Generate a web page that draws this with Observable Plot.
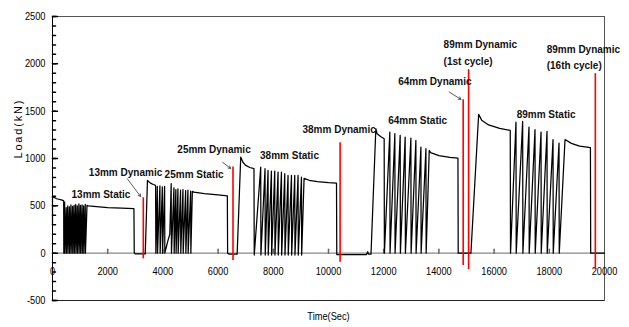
<!DOCTYPE html>
<html><head><meta charset="utf-8">
<script src="https://cdn.jsdelivr.net/npm/d3@7"></script>
<script src="https://cdn.jsdelivr.net/npm/@observablehq/plot@0.6"></script>
<style>
body{margin:0;background:#fff;}
#chart{width:629px;height:327px;}
</style></head><body><div id="chart"></div>
<script>
// Load (kN) vs time (sec): [time, load]
const stage13Static = [[0,300],[0,600],[150,575],[350,560],[405,552],[410,0],[440,540],[446,0],[498,480],[504,0],[553,500],[559,0],[612,490],[618,0],[668,510],[674,0],[727,495],[733,0],[783,505],[789,0],[842,515],[848,0],[898,500],[904,0],[957,520],[963,0],[1013,505],[1019,0],[1072,510],[1078,0],[1128,500],[1134,0],[1187,515],[1193,0],[1250,505],[1300,500],[1600,492],[2000,482],[2500,476],[2950,470],[2962,5],[3000,-8],[3360,-8]];
const stage25Static = [[3440,768],[3550,740],[3650,725],[3735,716],[3745,0],[3797,705],[3805,0],[3892,712],[3900,0],[3979,700],[3987,0],[4062,706],[4070,0],[4120,60],[4180,130],[4250,200],[4300,735],[4310,0],[4400,690],[4408,0],[4470,672],[4478,0],[4545,680],[4553,0],[4640,665],[4648,0],[4727,672],[4735,0],[4824,660],[4832,0],[4907,666],[4915,0],[5005,655],[5013,0],[5067,652],[5125,645],[5500,630],[6000,615],[6335,605],[6345,0],[6400,-10],[6690,-10]];
const stage38Static = [[6820,1015],[6900,960],[7000,927],[7150,905],[7300,892],[7310,-20],[7544,909],[7552,-20],[7700,892],[7708,-20],[7809,874],[7817,-20],[7932,867],[7940,-20],[8052,867],[8060,-20],[8172,856],[8180,-20],[8295,856],[8303,-20],[8415,839],[8423,-20],[8534,821],[8542,-20],[8658,821],[8666,-20],[8777,821],[8785,-20],[8897,821],[8905,-20],[9020,803],[9028,-20],[9115,790],[9300,770],[9600,755],[10000,745],[10290,740],[10300,-15],[11380,-15],[11420,15],[11450,-10],[11540,-10]];
const stage64Static = [[11715,1315],[11760,1262],[11900,1230],[12017,1209],[12025,0],[12222,1279],[12230,0],[12404,1262],[12412,0],[12597,1244],[12605,0],[12778,1226],[12786,0],[12985,1216],[12993,0],[13166,1191],[13174,0],[13348,1120],[13356,0],[13530,1104],[13538,0],[13650,1085],[13700,1062],[14000,1030],[14400,1012],[14690,1004],[14700,0],[15160,0]];
const stage89Static = [[15440,1466],[15550,1405],[15800,1355],[16200,1318],[16585,1297],[16595,0],[16793,1385],[16801,0],[17035,1392],[17043,0],[17264,1332],[17272,0],[17482,1304],[17490,0],[17700,1279],[17708,0],[17917,1286],[17925,0],[18135,1200],[18143,0],[18352,1163],[18360,0],[18570,1200],[18800,1160],[19100,1130],[19490,1114],[19500,0],[20000,0]];

// Dynamic load instants (red lines)
const redTime = [3290, 6540, 10420, 14880, 15076, 19668];
const redTop = [585, 909, 1167, 1621, 1938, 1896];
const redBottom = [-60, -77, -95, -130, -175, -175];

// Annotations
const labelText = ["13mm Static","13mm Dynamic","25mm Static","25mm Dynamic","38mm Static","38mm Dynamic","64mm Static","64mm Dynamic","89mm Dynamic","(1st cycle)","89mm Static","89mm Dynamic","(16th cycle)"];
const labelTime = [689, 1317, 4062, 4523, 7519, 9057, 12161, 12524, 14171, 14171, 16818, 17906, 17906];
const labelLoad = [618, 850, 829, 1093, 1033, 1304, 1403, 1808, 2203, 2019, 1462, 2153, 1977];

const arrowFromTime = [2709, 6166, 14374];
const arrowFromLoad = [786, 959, 1702];
const arrowToTime = [3192, 6456, 14798];
const arrowToLoad = [599, 895, 1625];

const xTicks = [0, 2000, 4000, 6000, 8000, 10000, 12000, 14000, 16000, 18000, 20000];
const yTicks = [-500, 0, 500, 1000, 1500, 2000, 2500];
const yMinorTicks = d3.range(-500, 2501, 100);

const series = [...stage13Static, ...stage25Static, ...stage38Static, ...stage64Static, ...stage89Static]
  .map(([t, l]) => ({t, l}));
const reds = redTime.map((t, i) => ({t, top: redTop[i], bottom: redBottom[i]}));
const labels = labelText.map((s, i) => ({s, t: labelTime[i], l: labelLoad[i]}));
const arrows = arrowFromTime.map((t, i) => ({t1: t, l1: arrowFromLoad[i], t2: arrowToTime[i], l2: arrowToLoad[i]}));

const tickShape = {draw(ctx, l) { ctx.moveTo(0, 0); ctx.lineTo(0, -l); }};
const font = "'Liberation Sans', Arial, sans-serif";

const chart = Plot.plot({
  width: 629,
  height: 327,
  marginLeft: 52,
  marginRight: 25,
  marginTop: 16,
  marginBottom: 27,
  style: {fontFamily: font, fontSize: "11px", background: "#fff", color: "#000"},
  x: {domain: [0, 20000], axis: null},
  y: {domain: [-500, 2500]},
  marks: [
    Plot.frame({stroke: "#555"}),
    Plot.ruleY([0], {stroke: "#888", strokeWidth: 1.2}),
    Plot.ruleX([0], {stroke: "#000"}),
    Plot.ruleY([-500], {stroke: "#222"}),
    Plot.axisY({ticks: yTicks, tickSize: 0, tickPadding: 7, label: null, fontSize: 11, tickFormat: d => String(d)}),
    Plot.vector(yMinorTicks, {y: d => d, frameAnchor: "left", rotate: 90, length: 3, anchor: "start", shape: tickShape, stroke: "#000"}),
    Plot.vector(yTicks, {y: d => d, frameAnchor: "left", rotate: 90, length: 5, anchor: "start", shape: tickShape, stroke: "#000"}),
    Plot.vector(xTicks.slice(1, -1), {x: d => d, y: 0, rotate: 0, length: 4, anchor: "start", shape: tickShape, stroke: "#666"}),
    Plot.text(xTicks, {x: d => d, y: 0, text: d => String(d), dy: 18, fontSize: 11}),
    Plot.line(series, {x: "t", y: "l", stroke: "#000", strokeWidth: 1.25}),
    Plot.ruleX(reds, {x: "t", y1: "bottom", y2: "top", stroke: "#ff0000", strokeWidth: 1.6}),
    Plot.arrow(arrows, {x1: "t1", y1: "l1", x2: "t2", y2: "l2", stroke: "#333", strokeWidth: 0.8, headLength: 5}),
    Plot.text(labels, {x: "t", y: "l", text: "s", textAnchor: "start", lineAnchor: "middle", fontWeight: "bold", fontSize: 10, fill: "#111"}),
    Plot.text(["Time(Sec)"], {frameAnchor: "bottom", dy: 19, fontSize: 11}),
    Plot.text(["Load(kN)"], {frameAnchor: "left", rotate: -90, dx: -34, fontSize: 11})
  ]
});
document.getElementById("chart").append(chart);
// Narrow (Arial Narrow-like) lettering for the axis numbers
d3.select(chart).selectAll("text").each(function() {
  const s = this.textContent;
  if (s === "Load(kN)") { this.setAttribute("letter-spacing", "1.8px"); return; }
  if (!/^-?\d+$/.test(s) && s !== "Time(Sec)") return;
  const w = this.getComputedTextLength();
  if (w > 0) {
    this.setAttribute("textLength", (w * 0.84).toFixed(1));
    this.setAttribute("lengthAdjust", "spacingAndGlyphs");
  }
});
</script>
</body></html>
